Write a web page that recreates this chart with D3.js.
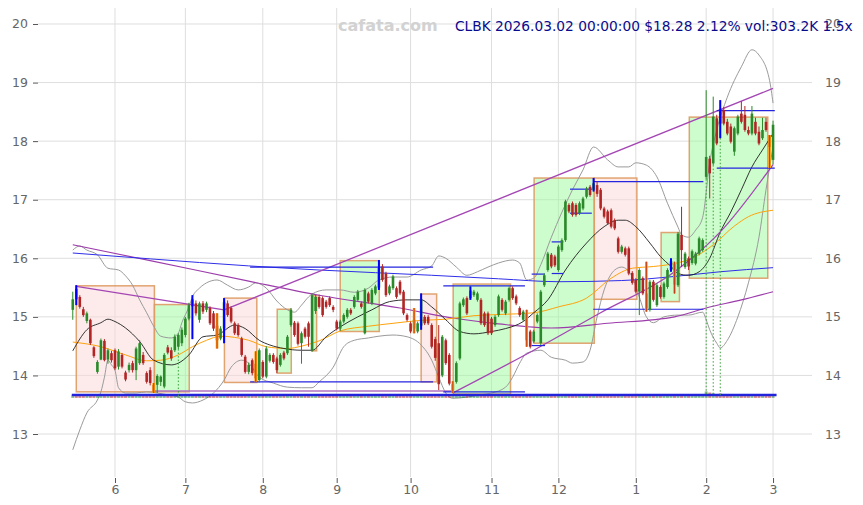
<!DOCTYPE html>
<html><head><meta charset="utf-8">
<script src="https://cdn.jsdelivr.net/npm/d3@7/dist/d3.min.js"></script>
<style>
html,body{margin:0;padding:0;background:#fff;}
svg{display:block;font-family:"DejaVu Sans",Verdana,sans-serif;}
</style></head><body>
<svg id="chart" width="863" height="505"></svg>
<script>
// ---------------- DATA ----------------
const ticker = "CLBK";
const lastStamp = "2026.03.02 00:00:00";
const volRatioText = "1.5x";
const watermark = "cafata.com";
const firstIdx = -12;               // trading-day index of first bar (0 = 2025-06-02)
const monthTickIdx = [0, 20, 42, 63, 84, 107, 126, 148, 168, 187];
const monthLabels  = ["6","7","8","9","10","11","12","1","2","3"];
const yTicks = [13,14,15,16,17,18,19,20];

const openP = [
15.12,15.48,15.34,15.13,14.93,14.95,14.48,14.06,14.27,14.59,
14.27,14.38,14.43,14.15,14.35,14.05,14.09,14.21,14.09,14.21,
14.35,14.04,14.09,13.84,13.84,13.89,13.81,14.48,14.43,14.43,
14.49,14.55,14.69,14.97,15.18,15.23,14.95,15.23,15.12,15.15,
15.06,14.85,14.63,14.80,15.23,15.15,14.89,14.86,14.63,14.32,
14.06,14.26,14.20,13.92,14.23,13.98,14.25,14.35,14.29,14.18,
14.39,14.38,14.86,14.90,14.89,14.55,14.80,14.89,14.43,15.10,
15.34,15.32,15.26,15.32,15.17,14.92,14.80,14.92,15.00,15.12,
15.17,15.29,15.23,14.72,15.40,15.23,15.40,15.50,15.86,15.74,
15.40,15.49,15.49,15.60,15.43,15.03,14.89,14.80,14.75,14.85,
15.00,15.00,14.86,14.62,14.55,14.00,14.60,14.35,13.75,13.89,
14.29,15.20,15.32,15.32,15.37,15.29,15.29,15.06,15.06,14.97,
14.86,15.03,15.29,15.06,15.29,15.49,15.35,15.15,14.95,15.05,
14.75,14.58,14.92,14.55,15.54,15.80,16.06,16.03,15.80,16.14,
16.31,16.91,16.94,16.91,16.77,16.85,17.05,17.22,17.17,17.25,
17.17,16.85,16.80,16.82,16.65,16.34,16.11,16.17,16.17,15.75,
15.63,15.43,15.66,15.40,15.12,15.60,15.20,15.51,15.34,15.51,
15.80,15.90,15.54,16.40,15.85,16.00,15.92,15.91,16.08,16.14,
17.39,17.70,17.62,18.39,18.55,18.53,18.33,18.25,17.82,18.13,
18.47,18.45,18.19,18.13,18.33,18.16,18.05,18.33,18.10,17.68];
const highP = [
15.43,15.54,15.37,15.17,15.09,14.97,14.50,14.26,14.63,14.62,
14.46,14.42,14.46,14.45,14.38,14.08,14.22,14.25,14.49,14.60,
14.40,14.07,14.14,13.87,14.02,14.00,14.38,14.52,14.48,14.70,
14.72,14.82,15.00,15.24,15.37,15.28,15.26,15.27,15.26,15.18,
15.10,15.06,14.84,15.32,15.28,15.18,14.92,14.89,14.66,14.35,
14.22,14.29,14.41,14.46,14.26,14.50,14.38,14.38,14.32,14.38,
14.42,14.69,15.15,14.93,14.92,14.75,14.83,14.92,15.40,15.38,
15.38,15.35,15.29,15.35,15.20,14.95,14.95,15.06,15.15,15.15,
15.37,15.46,15.26,15.49,15.43,15.49,15.55,15.97,15.90,15.77,
15.55,15.72,15.52,15.63,15.46,15.06,14.92,15.15,14.92,15.40,
15.03,15.03,14.89,14.66,14.86,14.69,14.63,14.38,13.90,14.24,
15.26,15.33,15.35,15.52,15.46,15.43,15.32,15.09,15.09,15.00,
15.03,15.38,15.32,15.29,15.52,15.52,15.38,15.18,15.12,15.12,
14.78,14.78,15.06,15.46,15.74,16.11,16.09,16.06,16.23,16.34,
17.00,16.94,16.97,16.94,16.97,17.05,17.22,17.25,17.37,17.31,
17.20,16.88,16.83,16.85,16.68,16.37,16.23,16.20,16.20,15.78,
15.66,15.83,15.69,15.94,15.63,15.63,15.57,15.54,15.60,15.83,
16.00,15.94,16.45,16.88,16.11,16.03,16.15,16.11,16.37,16.34,
18.87,17.75,18.76,18.45,18.70,18.58,18.38,18.30,18.25,18.45,
18.68,18.60,18.25,18.60,18.40,18.25,18.40,18.40,18.10,18.35];
const lowP = [
14.95,15.20,15.14,15.00,14.89,14.52,14.30,14.03,14.26,14.24,
14.20,14.22,14.09,14.10,14.12,13.90,14.05,14.05,13.92,14.18,
14.18,13.86,13.83,13.70,13.70,13.82,13.78,14.36,14.25,14.40,
14.45,14.50,14.65,14.94,14.62,15.02,14.90,15.05,15.08,14.86,
14.76,14.46,14.60,14.55,15.00,14.89,14.69,14.66,14.32,14.03,
14.02,14.00,13.89,13.88,13.95,13.95,14.22,14.20,14.04,14.15,
14.26,14.35,14.83,14.66,14.51,14.20,14.63,14.49,14.40,15.05,
15.14,15.00,15.14,15.17,15.08,14.77,14.76,14.89,14.97,15.03,
15.14,15.26,15.14,14.70,15.23,15.20,15.37,15.46,15.60,15.34,
15.37,15.46,15.31,15.37,15.03,14.92,14.72,14.72,14.72,14.78,
14.86,14.86,14.46,14.25,13.75,13.97,14.18,13.83,13.70,13.86,
14.26,15.17,15.03,15.29,15.34,15.26,14.86,14.83,14.69,14.69,
14.83,15.00,15.09,15.03,15.26,15.29,15.20,15.00,14.92,14.49,
14.46,14.55,14.89,14.52,15.51,15.77,15.83,15.85,15.77,16.11,
16.28,16.77,16.71,16.71,16.74,16.82,17.02,17.05,17.14,17.05,
16.82,16.68,16.57,16.51,16.48,16.08,16.08,16.03,15.71,15.55,
15.40,15.03,15.37,15.09,15.09,15.26,15.17,15.31,15.31,15.48,
15.77,15.40,15.51,15.85,15.82,15.80,15.89,15.88,16.05,16.11,
17.35,17.02,17.59,17.93,18.05,18.27,18.10,17.96,17.75,18.10,
18.30,18.16,18.10,18.10,18.10,17.93,18.02,18.16,17.54,17.60];
const closeP = [
15.30,15.30,15.17,15.03,15.06,14.55,14.33,14.23,14.60,14.26,
14.43,14.26,14.12,14.41,14.15,13.93,14.18,14.09,14.46,14.55,
14.21,13.89,13.87,13.72,13.99,13.98,14.35,14.39,14.29,14.66,
14.69,14.78,14.97,15.20,15.30,15.06,15.23,15.09,15.23,14.89,
14.80,14.60,14.80,15.25,15.03,14.92,14.72,14.69,14.35,14.06,
14.18,14.04,13.95,14.43,13.98,14.46,14.35,14.23,14.09,14.35,
14.29,14.66,15.12,14.69,14.54,14.72,14.66,14.66,15.37,15.34,
15.17,15.03,15.17,15.20,15.12,14.80,14.92,15.03,15.12,15.06,
15.34,15.43,15.17,15.46,15.26,15.46,15.52,15.85,15.63,15.37,
15.52,15.69,15.34,15.40,15.06,14.95,14.75,14.95,14.89,15.30,
14.89,14.89,14.49,14.30,13.85,14.66,14.21,13.86,13.85,14.21,
15.23,15.30,15.06,15.45,15.43,15.40,14.89,14.86,14.72,14.72,
15.00,15.35,15.12,15.26,15.49,15.32,15.23,15.03,15.09,14.60,
14.49,14.75,15.03,15.43,15.71,16.08,15.86,15.88,16.20,16.31,
16.97,16.80,16.74,16.74,16.94,17.02,17.19,17.08,17.28,17.10,
16.85,16.71,16.60,16.54,16.51,16.11,16.20,16.06,15.74,15.58,
15.43,15.80,15.40,15.15,15.60,15.29,15.54,15.34,15.57,15.80,
15.95,15.55,16.42,16.14,16.08,15.86,16.12,16.08,16.34,16.31,
17.73,17.45,18.42,17.96,18.30,18.30,18.13,17.99,18.22,18.42,
18.33,18.19,18.13,18.47,18.13,17.96,18.19,18.19,17.90,18.28];
const volK = [
210,260,180,150,170,240,200,190,230,170,
160,150,220,190,170,210,140,130,260,230,
170,210,230,290,250,180,310,200,150,260,
420,240,260,280,330,190,170,160,150,200,
180,260,170,300,190,160,180,150,220,240,
200,180,270,250,210,230,140,130,180,160,
140,170,250,200,190,210,150,180,330,220,
170,200,150,140,130,180,160,150,170,140,
200,190,150,280,170,190,210,320,240,220,
180,200,170,160,230,190,200,240,180,290,
170,160,250,260,380,300,220,290,310,240,
390,240,220,260,180,170,260,200,220,190,
170,230,180,190,220,200,160,170,150,280,
230,190,200,340,260,300,210,180,250,220,
380,240,210,200,190,220,250,200,210,260,
270,220,210,230,190,280,180,170,290,230,
240,300,220,290,260,230,220,190,210,240,
250,260,320,300,210,190,200,190,220,210,
780,620,520,400,480,330,280,260,300,290,
280,260,220,270,230,250,240,220,270,303.2];

const pivotHighIdx = [-11, 22, 31, 75, 87, 101, 136, 158, 172];
const pivotLowIdx  = [11, 29, 40, 85, 96, 117, 151, 159, 186];
const highVolIdx   = [18, 168, 170, 172];

// range boxes
const boxStart = [-11, 11.2, 31.1, 46.1, 56.1, 64.0, 87.0, 96.1, 119.1, 136.2, 155.2, 163.2];
const boxEnd   = [11.2, 21.1, 40.3, 50.1, 57.3, 75.1, 91.4, 112.4, 136.2, 148.3, 160.4, 185.5];
const boxTop   = [15.53, 15.21, 15.32, 15.13, 15.36, 15.96, 15.39, 15.56, 17.37, 17.37, 16.44, 18.41];
const boxBot   = [13.72, 13.72, 13.88, 14.04, 14.42, 14.75, 13.89, 13.68, 14.55, 15.30, 15.26, 15.66];
const boxUp    = [false, true, false, true, true, true, false, true, true, false, true, true];

// support / resistance pairs
const srStart = [38.4, 93.3, 118.4, 124.1, 129.3, 135.9, 171.0];
const srEnd   = [90.4, 116.5, 122.2, 127.4, 135.5, 167.2, 187.5];
const srTop   = [15.85, 15.53, 15.73, 16.28, 17.18, 17.31, 18.52];
const srBot   = [13.89, 13.72, 14.51, 15.74, 16.77, 15.13, 17.54];

// indicator lines
const midIdx = [-12,-8,-4,-2,0,3,7,11,16,18,21,25,29,34,37,41,44,48,53,56,60,64,69,73,78,83,87,90,94,98,102,107,111,116,119,123,128,134,139,143,145,148,152,155,158,160,163,166,169,172,175,178,181,184,187];
const midVal = [14.42,14.78,14.90,14.96,14.92,14.81,14.58,14.26,14.18,14.21,14.35,14.66,14.69,14.86,14.80,14.60,14.52,14.46,14.43,14.43,14.66,14.83,15.00,15.12,15.26,15.29,15.29,15.17,14.95,14.75,14.71,14.75,14.80,14.92,15.07,15.29,15.80,16.26,16.54,16.65,16.65,16.54,16.26,16.03,15.86,15.74,15.71,15.77,16.00,16.45,16.79,17.17,17.56,17.85,18.13];
const slowIdx = [-12,-4,3,9,13,18,22,26,30,34,38,43,49,53,58,64,72,79,87,94,102,109,119,126,134,141,147,153,159,164,170,176,180,187];
const slowVal = [14.57,14.49,14.35,14.25,14.26,14.35,14.49,14.60,14.67,14.65,14.60,14.49,14.46,14.50,14.59,14.76,14.84,14.89,14.94,14.96,15.02,15.04,15.07,15.17,15.32,15.66,15.83,15.86,15.91,16.00,16.23,16.55,16.71,16.82];
const upIdx = [-12,-10,-8,-5,-2,1,3,5,7,9,11,13,16,18,19,21,22,24,26,29,32,35,38,40,43,46,49,51,53,55,56,60,64,68,72,75,79,83,87,90,92,94,97,100,103,106,109,113,115,117,119,121,124,130,133,136,140,143,146,148,151,154,157,160,161,163,165,167,169,171,174,178,181,183,186,187];
const upVal = [16.14,16.21,16.14,16.06,15.83,15.80,15.70,15.54,15.29,15.07,14.84,14.67,14.64,14.72,14.90,15.17,15.34,15.49,15.58,15.63,15.54,15.46,15.51,15.58,15.49,15.27,15.12,15.08,15.20,15.34,15.39,15.46,15.46,15.42,15.49,15.63,15.68,15.68,15.80,15.87,16.04,16.00,15.85,15.71,15.77,15.85,15.92,15.97,15.92,15.63,15.66,15.89,16.36,17.17,17.51,17.90,17.68,17.56,17.56,17.63,17.59,17.39,16.94,16.53,16.40,16.36,16.48,16.70,17.63,18.19,18.75,19.27,19.56,19.47,19.04,18.65];
const loIdx = [-12,-10,-8,-5,-4,-3,-2,-1,0,1,3,6,9,12,15,18,20,22,25,28,31,33,36,38,41,45,49,53,56,58,62,65,68,72,75,79,83,87,90,92,94,96,100,104,107,111,113,115,117,121,124,128,130,133,135,137,139,142,144,147,149,151,153,156,160,163,167,168,169,171,172,174,177,180,183,185,187];
const loVal = [12.73,13.07,13.36,13.58,13.72,13.97,14.26,14.18,14.09,13.79,13.70,13.70,13.72,13.70,13.67,13.63,13.55,13.53,13.58,13.70,13.92,14.14,14.26,14.21,13.97,13.87,13.80,13.79,13.79,13.89,14.14,14.49,14.60,14.64,14.67,14.69,14.66,14.52,14.26,13.97,13.70,13.61,13.63,13.67,13.70,13.80,13.97,14.21,14.38,14.43,14.31,14.26,14.21,14.23,14.43,15.00,15.46,15.80,15.85,15.68,15.34,15.00,14.90,15.00,15.03,15.03,15.08,14.95,14.78,14.55,14.47,14.60,15.00,15.58,16.36,17.17,17.90];
const longIdx = [-12,10,38,58,81,96,109,124,140,159,168,178,187];
const longVal = [16.23,15.96,15.61,15.37,15.15,14.98,14.88,14.81,14.89,15.00,15.15,15.29,15.43];
const blueIdx = [-12,10,38,58,90,109,126,144,159,172,187];
const blueVal = [16.09,15.99,15.87,15.80,15.71,15.65,15.60,15.62,15.69,15.77,15.84];
const trendDIdx = [-11, 31];   const trendDVal = [15.52, 15.12];
const trendCIdx = [31, 187];   const trendCVal = [15.12, 18.90];
const trendEIdx = [96, 119, 138, 159, 172, 187];
const trendEVal = [13.70, 14.43, 15.07, 15.77, 16.45, 17.60];
const floorIdx  = [11, 96];    const floorVal  = [13.735, 13.735];

// ---------------- LAYOUT ----------------
const L = 38, R = 812, T = 8, B = 477;
const svg = d3.select("#chart");
const x = d3.scaleLinear().domain([-21.88, 198.07]).range([L, R]);
const y = d3.scaleLinear().domain([12.266, 20.273]).range([B, T]);
const bars = openP.map((o, i) => ({idx: firstIdx + i, o, h: highP[i], l: lowP[i], c: closeP[i], v: volK[i]}));
const byIdx = new Map(bars.map(b => [b.idx, b]));
const GREEN = "#2a8a2a", RED = "#b22525";

// grid
const grid = svg.append("g");
grid.selectAll(".hg").data(yTicks).join("line")
  .attr("x1", L).attr("x2", R).attr("y1", d => y(d)).attr("y2", d => y(d))
  .attr("stroke", "#dedede").attr("stroke-width", 1);
grid.selectAll(".vg").data(monthTickIdx).join("line")
  .attr("x1", d => x(d)).attr("x2", d => x(d)).attr("y1", T).attr("y2", B)
  .attr("stroke", "#dedede").attr("stroke-width", 1);

// axes
const axL = svg.append("g").attr("transform", `translate(${L},0)`)
  .call(d3.axisLeft(y).tickValues(yTicks).tickSize(5).tickPadding(5).tickFormat(d3.format("d")));
const axR = svg.append("g").attr("transform", `translate(${R},0)`)
  .call(d3.axisRight(y).tickValues(yTicks).tickSize(0).tickPadding(13).tickFormat(d3.format("d")));
const axB = svg.append("g").attr("transform", `translate(0,478)`)
  .call(d3.axisBottom(x).tickValues(monthTickIdx).tickSize(5).tickPadding(2)
    .tickFormat((d, i) => monthLabels[i]));
[axL, axR, axB].forEach(a => {
  a.select(".domain").remove();
  a.selectAll("line").attr("stroke", "#555");
  a.selectAll("text").attr("fill", "#666").style("font-size", "12.5px")
   .style("font-family", "DejaVu Sans, sans-serif");
});

// boxes
const gBox = svg.append("g");
boxStart.forEach((s, i) => {
  gBox.append("rect")
    .attr("x", x(s)).attr("width", x(boxEnd[i]) - x(s))
    .attr("y", y(boxTop[i])).attr("height", y(boxBot[i]) - y(boxTop[i]))
    .attr("fill", boxUp[i] ? "#9cf99c" : "#fbd8d8").attr("fill-opacity", 0.5)
    .attr("stroke", "#de9a62").attr("stroke-width", 1.5).attr("stroke-opacity", 0.9);
});

// lines
const lineGen = d3.line().x(d => x(d[0])).y(d => y(d[1])).curve(d3.curveMonotoneX);
const straight = d3.line().x(d => x(d[0])).y(d => y(d[1]));
function drawLine(idxs, vals, color, width, gen = lineGen, extra = {}) {
  const p = svg.append("path").datum(idxs.map((d, i) => [d, vals[i]]))
    .attr("d", gen).attr("fill", "none").attr("stroke", color).attr("stroke-width", width);
  Object.entries(extra).forEach(([k, v]) => p.attr(k, v));
  return p;
}
drawLine(upIdx, upVal, "#9a9a9a", 1);
drawLine(loIdx, loVal, "#9a9a9a", 1);
drawLine(longIdx, longVal, "#9c3cab", 1.1);
drawLine(blueIdx, blueVal, "#2f2fe8", 1);
drawLine(slowIdx, slowVal, "#ffa20a", 1);
drawLine(midIdx, midVal, "#1e1e1e", 0.9);
drawLine(floorIdx, floorVal, "#b070c0", 2, straight, {"stroke-opacity": 0.75});
drawLine(trendDIdx, trendDVal, "#a446b4", 1.3, straight);
drawLine(trendCIdx, trendCVal, "#a446b4", 1.3, straight);
drawLine(trendEIdx, trendEVal, "#a446b4", 1.3);

// support / resistance pairs
const gSR = svg.append("g");
srStart.forEach((s, i) => {
  [srTop[i], srBot[i]].forEach(v => {
    gSR.append("line").attr("x1", x(s)).attr("x2", x(srEnd[i]))
      .attr("y1", y(v)).attr("y2", y(v)).attr("stroke", "#2525e0").attr("stroke-width", 1.2);
  });
});

// volume strip
const volBase = 398;
const vh = d3.scaleLinear().domain([0, d3.max(volK)]).range([1.2, 6.6]);
svg.append("g").selectAll("rect").data(bars).join("rect")
  .attr("x", d => x(d.idx) - 1.5).attr("width", 3)
  .attr("y", d => volBase - vh(d.v)).attr("height", d => vh(d.v))
  .attr("fill", d => d.c >= d.o ? GREEN : RED).attr("fill-opacity", 0.5);
svg.append("line").attr("x1", x(firstIdx) - 1).attr("x2", x(188))
  .attr("y1", 395).attr("y2", 395).attr("stroke", "#2323dc").attr("stroke-width", 2.6);

// high-volume markers
svg.append("g").selectAll("line").data(highVolIdx).join("line")
  .attr("x1", d => x(d)).attr("x2", d => x(d))
  .attr("y1", d => y(byIdx.get(d).l)).attr("y2", 396)
  .attr("stroke", "#3aa03a").attr("stroke-width", 1).attr("stroke-dasharray", "1.5,2");

// candles
const gC = svg.append("g");
gC.selectAll(".wick").data(bars).join("line")
  .attr("x1", d => x(d.idx)).attr("x2", d => x(d.idx))
  .attr("y1", d => y(d.h)).attr("y2", d => y(d.l))
  .attr("stroke", d => d.c >= d.o ? GREEN : RED).attr("stroke-width", 1);
gC.selectAll(".body").data(bars).join("rect")
  .attr("x", d => x(d.idx) - 1.3).attr("width", 2.6)
  .attr("y", d => y(Math.max(d.o, d.c)))
  .attr("height", d => Math.max(0.8, Math.abs(y(d.o) - y(d.c))))
  .attr("fill", d => d.c >= d.o ? GREEN : RED);

// pivot markers
pivotLowIdx.forEach(i => {
  const b = byIdx.get(i);
  gC.append("rect").attr("x", x(i) - 1.3).attr("width", 2.6)
    .attr("y", y(b.h)).attr("height", y(b.l) - y(b.h)).attr("fill", "#ff9a00");
  gC.append("line").attr("x1", x(i)).attr("x2", x(i)).attr("y1", y(b.h)).attr("y2", y(b.l))
    .attr("stroke", RED).attr("stroke-width", 0.8);
});
pivotHighIdx.forEach(i => {
  const b = byIdx.get(i);
  gC.append("line").attr("x1", x(i)).attr("x2", x(i)).attr("y1", y(b.h)).attr("y2", y(b.l))
    .attr("stroke", "#0000ff").attr("stroke-width", 2);
});

// header
const last = bars[bars.length - 1], prev = bars[bars.length - 2];
const pct = (last.c / prev.c - 1) * 100;
svg.append("text").attr("x", 338).attr("y", 31).text(watermark)
  .attr("fill", "#d2d2d2").style("font-size", "16px").style("font-weight", "bold");
svg.append("text").attr("x", 455).attr("y", 31)
  .text(`${ticker} ${lastStamp} $${last.c.toFixed(2)} ${pct.toFixed(2)}% vol:${last.v.toFixed(1)}K ${volRatioText}`)
  .attr("fill", "#0a0a8c").style("font-size", "13.75px");
</script>
</body></html>
